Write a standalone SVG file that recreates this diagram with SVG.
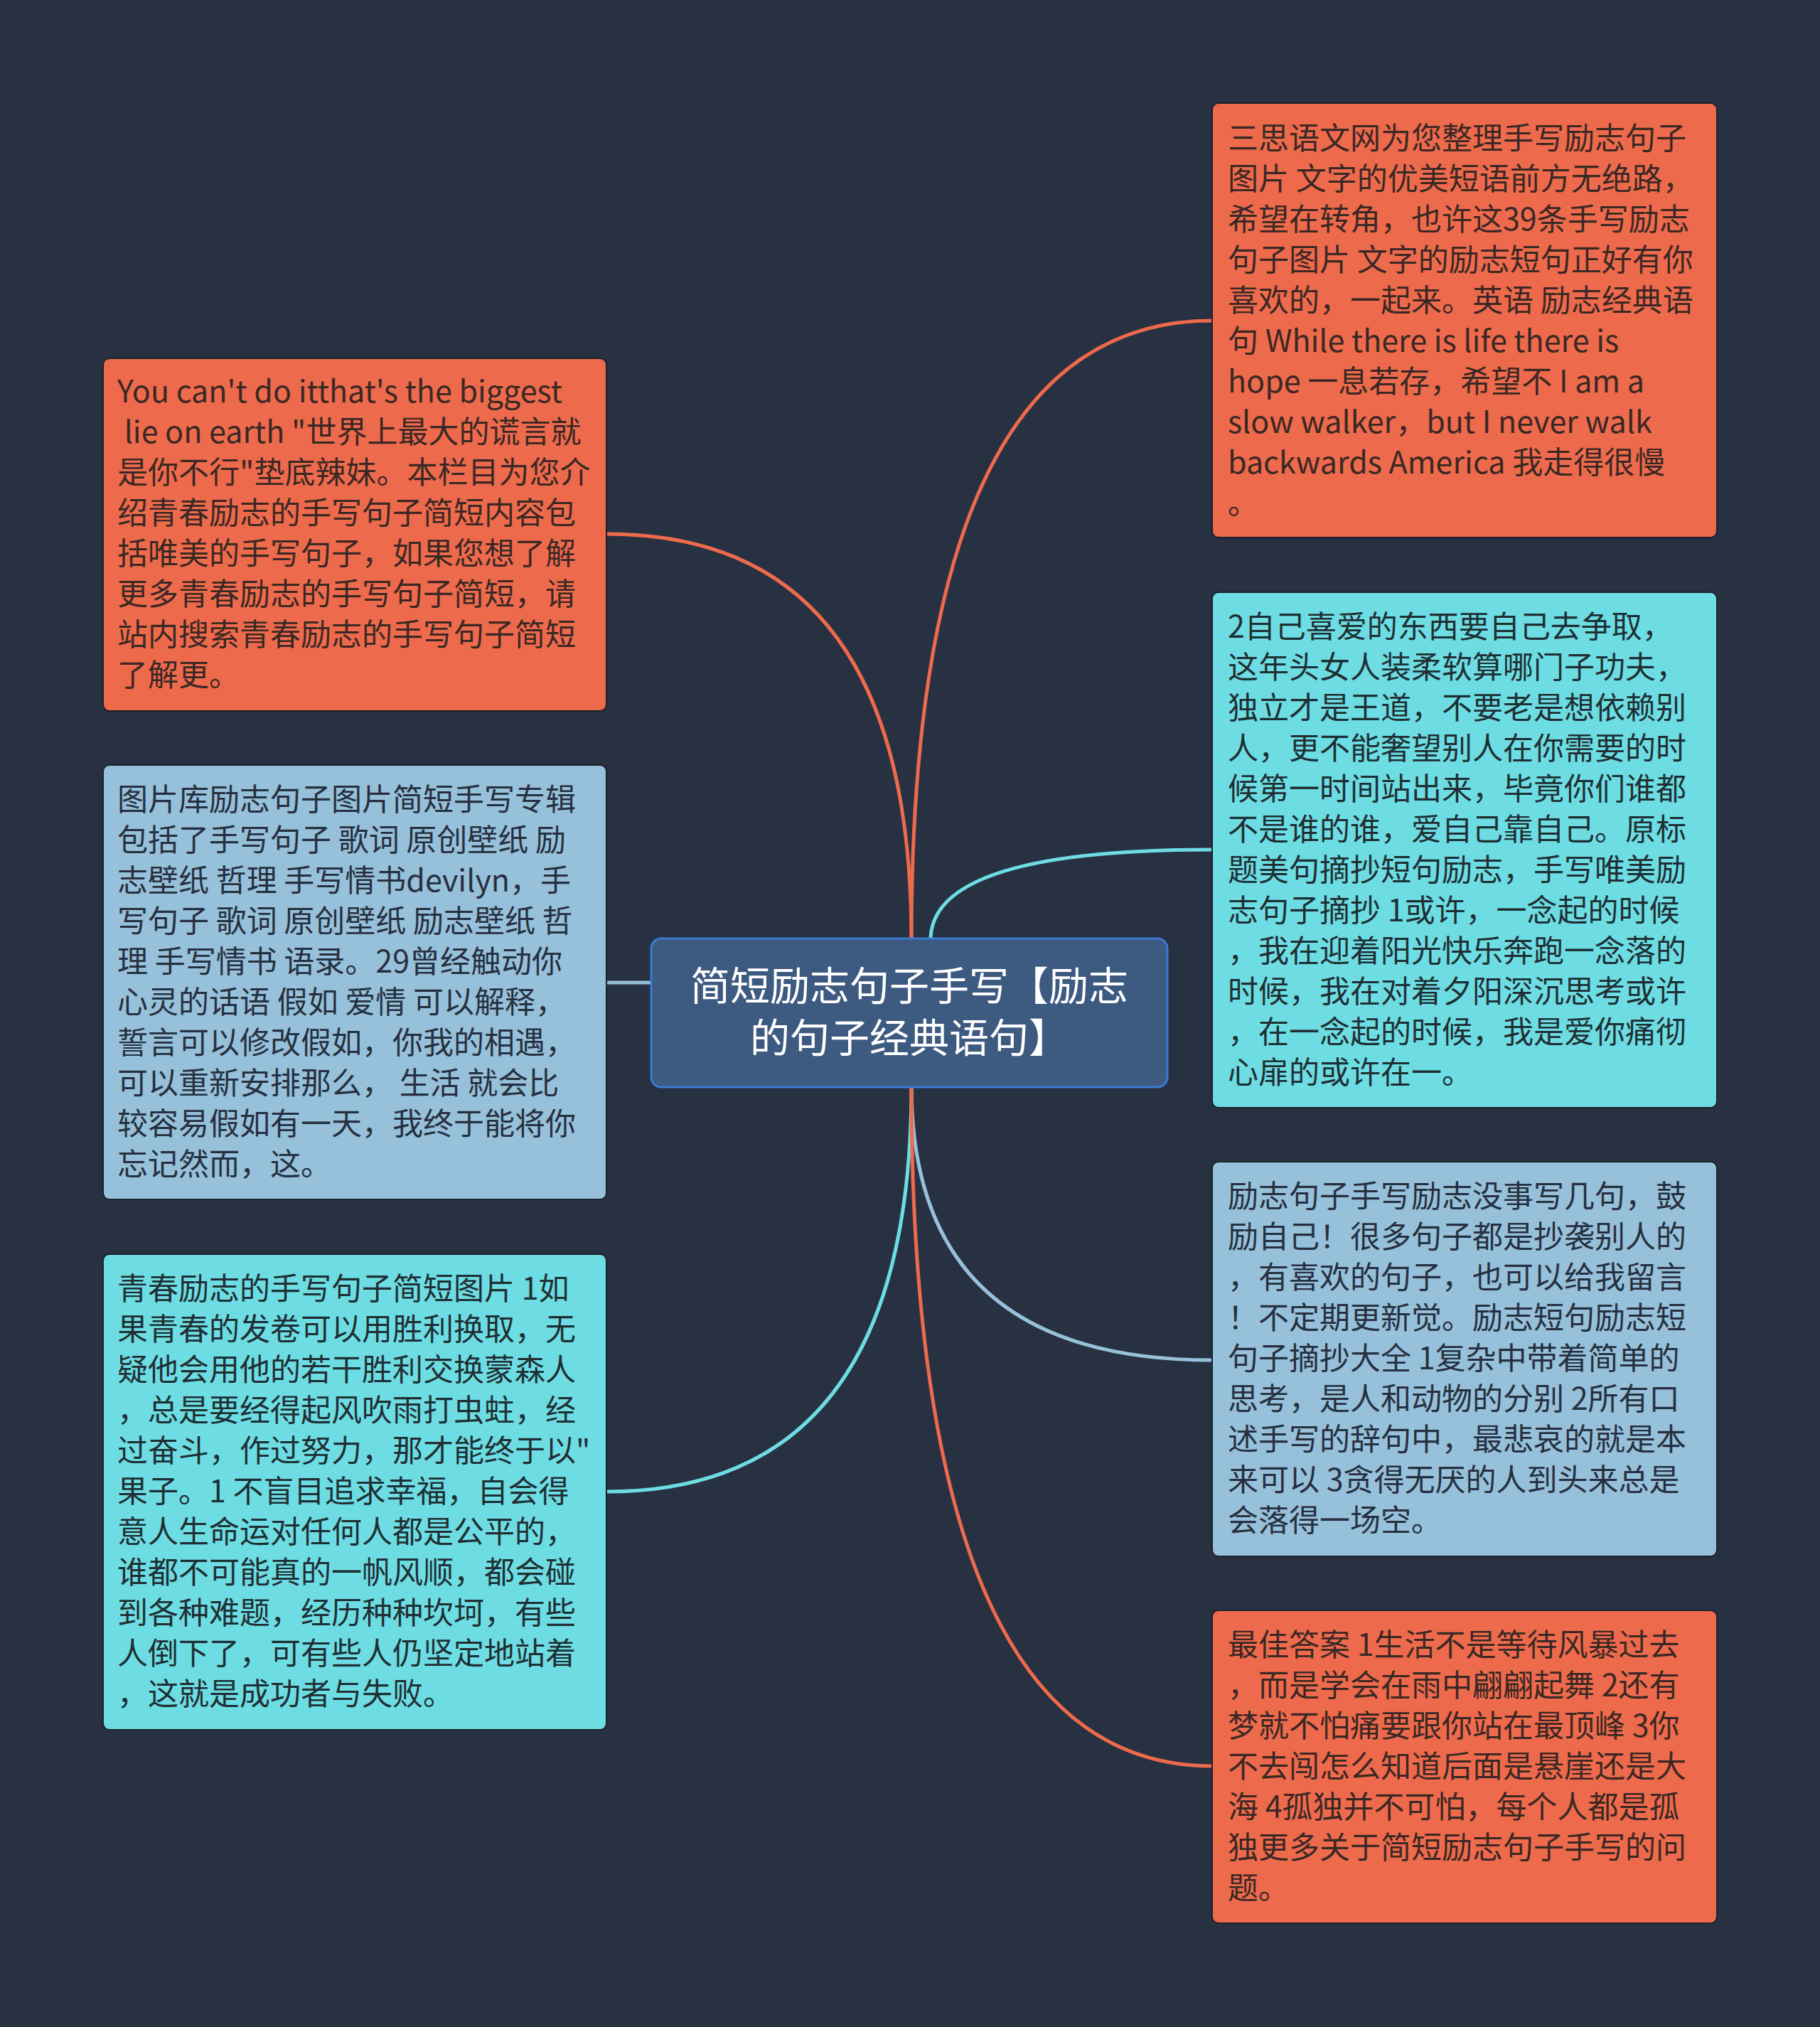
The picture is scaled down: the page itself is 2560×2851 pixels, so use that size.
<svg xmlns="http://www.w3.org/2000/svg" width="2560" height="2851" viewBox="0 0 2560 2851">
<style>
.bg{fill:#283141}
.box{stroke:#1c222c;stroke-width:2}
.orange{fill:#ee6a4c}
.cyan{fill:#6ddde3}
.blue{fill:#97c0da}
.t{font-family:"Noto Sans CJK SC","Noto Sans",sans-serif;font-size:43px;white-space:pre}
.to{fill:#3a2824}
.tc{fill:#1f2f33}
.tb{fill:#263040}
.ct{font-family:"Noto Sans CJK SC","Noto Sans",sans-serif;font-size:56px;fill:#ffffff;text-anchor:middle}
.ln{fill:none;stroke-width:5;stroke-linecap:round}
.lo{stroke:#ee6a4c}
.lc{stroke:#6ddde3}
.lb{stroke:#97c0da}
</style>
<rect class="bg" x="0" y="0" width="2560" height="2851"/>
<g id="connectors">
<path class="ln lo" d="M1282 1322 Q1282 451 1705 451"/>
<path class="ln lo" d="M1282 1322 Q1282 751 853 751"/>
<path class="ln lb" d="M853 1382 L918 1382"/>
<path class="ln lc" d="M1282 1527 Q1282 2098 853 2098"/>
<path class="ln lc" d="M1309 1322 Q1309 1195 1705 1195"/>
<path class="ln lb" d="M1282 1527 Q1282 1913 1705 1913"/>
<path class="ln lo" d="M1282 1527 Q1282 2484 1705 2484"/>
</g>
<g id="center">
<rect x="916" y="1320" width="726" height="209" rx="14" fill="#3d5a80" stroke="#3a7bd5" stroke-width="3"/>
<text class="ct" x="1279" y="1407">简短励志句子手写【励志</text>
<text class="ct" x="1279" y="1480">的句子经典语句】</text>
</g>
<g id="node-r1">
<rect class="box orange" x="1705" y="145" width="710" height="611" rx="9"/>
<text class="t to" x="1727" y="210"><tspan x="1727">三思语文网为您整理手写励志句子</tspan><tspan x="1727" dy="57">图片 文字的优美短语前方无绝路，</tspan><tspan x="1727" dy="57">希望在转角，也许这39条手写励志</tspan><tspan x="1727" dy="57">句子图片 文字的励志短句正好有你</tspan><tspan x="1727" dy="57">喜欢的，一起来。英语 励志经典语</tspan><tspan x="1727" dy="57">句 While there is life there is</tspan><tspan x="1727" dy="57">hope 一息若存，希望不 I am a</tspan><tspan x="1727" dy="57">slow walker，but I never walk</tspan><tspan x="1727" dy="57">backwards America 我走得很慢</tspan><tspan x="1727" dy="57">。</tspan></text>
</g>
<g id="node-l1">
<rect class="box orange" x="145" y="504" width="708" height="496" rx="9"/>
<text class="t to" x="165" y="566"><tspan x="165">You can't do itthat's the biggest</tspan><tspan x="165" dy="57"> lie on earth "世界上最大的谎言就</tspan><tspan x="165" dy="57">是你不行"垫底辣妹。本栏目为您介</tspan><tspan x="165" dy="57">绍青春励志的手写句子简短内容包</tspan><tspan x="165" dy="57">括唯美的手写句子，如果您想了解</tspan><tspan x="165" dy="57">更多青春励志的手写句子简短，请</tspan><tspan x="165" dy="57">站内搜索青春励志的手写句子简短</tspan><tspan x="165" dy="57">了解更。</tspan></text>
</g>
<g id="node-l2">
<rect class="box blue" x="145" y="1076" width="708" height="611" rx="9"/>
<text class="t tb" x="165" y="1140"><tspan x="165">图片库励志句子图片简短手写专辑</tspan><tspan x="165" dy="57">包括了手写句子 歌词 原创壁纸 励</tspan><tspan x="165" dy="57">志壁纸 哲理 手写情书devilyn，手</tspan><tspan x="165" dy="57">写句子 歌词 原创壁纸 励志壁纸 哲</tspan><tspan x="165" dy="57">理 手写情书 语录。29曾经触动你</tspan><tspan x="165" dy="57">心灵的话语 假如 爱情 可以解释，</tspan><tspan x="165" dy="57">誓言可以修改假如，你我的相遇，</tspan><tspan x="165" dy="57">可以重新安排那么， 生活 就会比</tspan><tspan x="165" dy="57">较容易假如有一天，我终于能将你</tspan><tspan x="165" dy="57">忘记然而，这。</tspan></text>
</g>
<g id="node-l3">
<rect class="box cyan" x="145" y="1764" width="708" height="669" rx="9"/>
<text class="t tc" x="165" y="1828"><tspan x="165">青春励志的手写句子简短图片 1如</tspan><tspan x="165" dy="57">果青春的发卷可以用胜利换取，无</tspan><tspan x="165" dy="57">疑他会用他的若干胜利交换蒙森人</tspan><tspan x="165" dy="57">，总是要经得起风吹雨打虫蛀，经</tspan><tspan x="165" dy="57">过奋斗，作过努力，那才能终于以"</tspan><tspan x="165" dy="57">果子。1 不盲目追求幸福，自会得</tspan><tspan x="165" dy="57">意人生命运对任何人都是公平的，</tspan><tspan x="165" dy="57">谁都不可能真的一帆风顺，都会碰</tspan><tspan x="165" dy="57">到各种难题，经历种种坎坷，有些</tspan><tspan x="165" dy="57">人倒下了，可有些人仍坚定地站着</tspan><tspan x="165" dy="57">，这就是成功者与失败。</tspan></text>
</g>
<g id="node-r2">
<rect class="box cyan" x="1705" y="833" width="710" height="725" rx="9"/>
<text class="t tc" x="1727" y="897"><tspan x="1727">2自己喜爱的东西要自己去争取，</tspan><tspan x="1727" dy="57">这年头女人装柔软算哪门子功夫，</tspan><tspan x="1727" dy="57">独立才是王道，不要老是想依赖别</tspan><tspan x="1727" dy="57">人，更不能奢望别人在你需要的时</tspan><tspan x="1727" dy="57">候第一时间站出来，毕竟你们谁都</tspan><tspan x="1727" dy="57">不是谁的谁，爱自己靠自己。原标</tspan><tspan x="1727" dy="57">题美句摘抄短句励志，手写唯美励</tspan><tspan x="1727" dy="57">志句子摘抄 1或许，一念起的时候</tspan><tspan x="1727" dy="57">，我在迎着阳光快乐奔跑一念落的</tspan><tspan x="1727" dy="57">时候，我在对着夕阳深沉思考或许</tspan><tspan x="1727" dy="57">，在一念起的时候，我是爱你痛彻</tspan><tspan x="1727" dy="57">心扉的或许在一。</tspan></text>
</g>
<g id="node-r3">
<rect class="box blue" x="1705" y="1634" width="710" height="555" rx="9"/>
<text class="t tb" x="1727" y="1698"><tspan x="1727">励志句子手写励志没事写几句，鼓</tspan><tspan x="1727" dy="57">励自己！很多句子都是抄袭别人的</tspan><tspan x="1727" dy="57">，有喜欢的句子，也可以给我留言</tspan><tspan x="1727" dy="57">！不定期更新觉。励志短句励志短</tspan><tspan x="1727" dy="57">句子摘抄大全 1复杂中带着简单的</tspan><tspan x="1727" dy="57">思考，是人和动物的分别 2所有口</tspan><tspan x="1727" dy="57">述手写的辞句中，最悲哀的就是本</tspan><tspan x="1727" dy="57">来可以 3贪得无厌的人到头来总是</tspan><tspan x="1727" dy="57">会落得一场空。</tspan></text>
</g>
<g id="node-r4">
<rect class="box orange" x="1705" y="2265" width="710" height="440" rx="9"/>
<text class="t to" x="1727" y="2329"><tspan x="1727">最佳答案 1生活不是等待风暴过去</tspan><tspan x="1727" dy="57">，而是学会在雨中翩翩起舞 2还有</tspan><tspan x="1727" dy="57">梦就不怕痛要跟你站在最顶峰 3你</tspan><tspan x="1727" dy="57">不去闯怎么知道后面是悬崖还是大</tspan><tspan x="1727" dy="57">海 4孤独并不可怕，每个人都是孤</tspan><tspan x="1727" dy="57">独更多关于简短励志句子手写的问</tspan><tspan x="1727" dy="57">题。</tspan></text>
</g>
</svg>
